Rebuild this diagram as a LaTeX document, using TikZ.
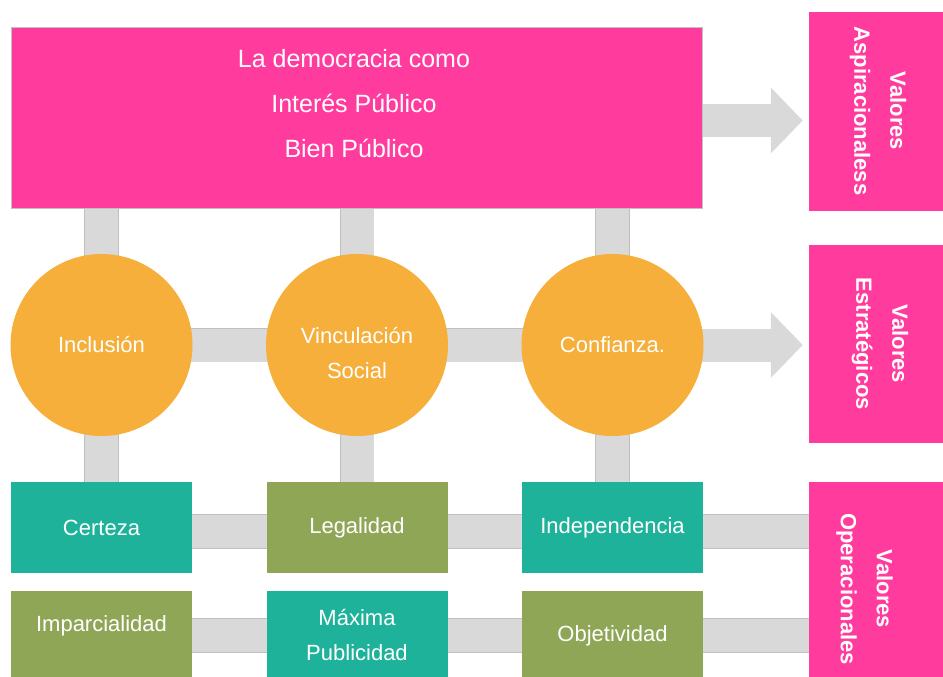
\documentclass[tikz,border=0pt]{standalone}
\usepackage{fontspec}
\setmainfont{Liberation Sans}
\usepackage{xcolor}
\usetikzlibrary{positioning}
\usetikzlibrary{arrows.meta,backgrounds}
\definecolor{rosa}{RGB}{255,59,157}
\definecolor{naranja}{RGB}{245,175,58}
\definecolor{verdeazul}{RGB}{31,178,155}
\definecolor{oliva}{RGB}{143,166,87}
\definecolor{gris}{RGB}{217,217,217}
\definecolor{grisborde}{RGB}{192,192,192}

\begin{document}
\begin{tikzpicture}[x=1pt,y=-1pt,node distance=255.5pt,on grid,
   every node/.style={text=white,font=\fontsize{22}{35}\selectfont},
   titulo/.style={rectangle,fill=rosa,draw=grisborde,line width=.4pt,minimum width=691pt,minimum height=181pt,inner sep=0pt},
   valor/.style={rectangle,fill=rosa,minimum width=134pt,inner sep=0pt},
   etiqueta/.style={rotate=-90,align=center,text=white,font=\fontsize{22}{36}\selectfont\bfseries},
   bola/.style={circle,fill=naranja,minimum size=182pt,inner sep=0pt,align=center},
   caja/.style={rectangle,minimum width=181pt,minimum height=91pt,inner sep=0pt,align=center},
   barra/.style={draw=grisborde,line width=.6pt,double=gris,double distance=33pt},
   flecha/.style={draw=gris,line width=33pt,-{Triangle[length=32pt,width=64pt]},shorten >=6pt}]
   \clip (0,0) rectangle (943,677);
   \node[titulo] (top) at (356.5,117.5)
      {}; 
   \node[align=center,font=\fontsize{25}{45}\selectfont] (toptxt) at (354,104)
      {La democracia como\\Interés Público\\Bien Público};
   \node[valor,minimum height=199pt] (asp) at (876,111.5)
      {}; 
   \node[etiqueta] (asptxt) at (878,111) {Valores\\Aspiracionaless};
   \node[valor,minimum height=198pt] (est) at (876,344)
      {}; 
   \node[etiqueta] (esttxt) at (880,344) {Valores\\Estratégicos};
   \node[valor,minimum height=216pt] (oper) at (876,590)
      {}; 
   \node[etiqueta] (opertxt) at (864.5,589) {Valores\\Operacionales};
   \node[bola] (inc) at (101.5,345) {Inclusión};
   \node[bola,label={[align=center,yshift=-8pt]center:Vinculación\\Social}] (vin) [right=of inc] {};
   \node[bola] (conf) [right=of vin] {Confianza.};
   \node[caja,fill=verdeazul] (cer) at (101.5,527.5) {Certeza};
   \node[caja,fill=oliva] (leg) [right=of cer] {Legalidad};
   \node[caja,fill=verdeazul] (ind) [right=of leg] {Independencia};
   \node[caja,fill=oliva,minimum height=89pt,label={[yshift=10pt]center:Imparcialidad}] (imp) at (101.5,635.5) {};
   \node[caja,fill=verdeazul,minimum height=89pt] (max) [right=of imp] {Máxima\\Publicidad};
   \node[caja,fill=oliva,minimum height=89pt] (obj) [right=of max] {Objetividad};
   \coordinate (ini) at (356.5,120.5);
   \coordinate (fila) at (101.5,531.5);
   \begin{scope}[on background layer]
   \draw[barra] (top.south -| inc.center) -- (inc.center) -- (cer.center);
   \draw[barra] (top.south -| vin.center) -- (vin.center) -- (leg.center);
   \draw[barra] (top.south -| conf.center) -- (conf.center) -- (ind.center);
   \draw[barra] (fila) -- (fila -| oper.center);
   \draw[barra] (imp.center) -- (imp.center -| oper.center);
   \draw[barra] (inc.center) -- (conf.center);
   \draw[flecha] (conf.center) -- (conf.center -| est.west);
   \draw[flecha] (ini) -- (ini -| asp.west);
   \end{scope}
 \end{tikzpicture}
\end{document}
